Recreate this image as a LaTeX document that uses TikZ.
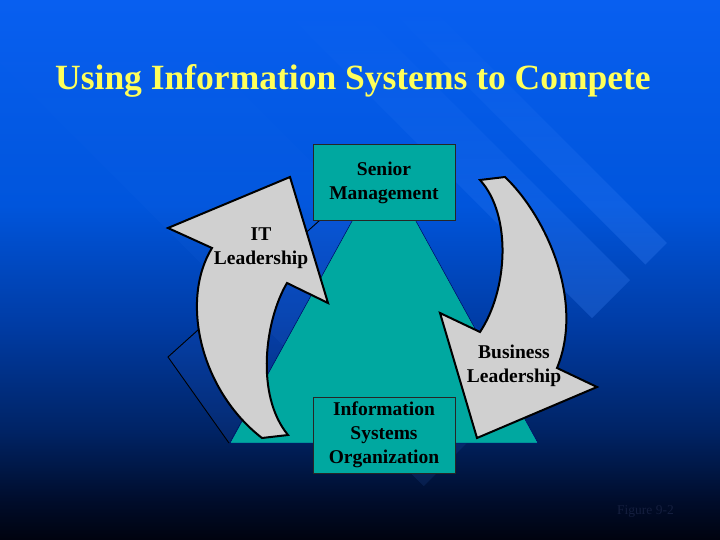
\documentclass[tikz,border=0pt]{standalone}
\usepackage{fontspec}
\setmainfont{Liberation Serif}
\usetikzlibrary{fadings}

\definecolor{boxteal}{RGB}{0,168,160}
\definecolor{arrowgrey}{RGB}{208,208,208}
\definecolor{titleyellow}{RGB}{255,255,90}
\definecolor{stripeblue}{RGB}{70,140,255}
\definecolor{facefill}{RGB}{40,90,200}
\definecolor{figtext}{RGB}{20,30,62}
\definecolor{bgA}{RGB}{0,3,15}
\definecolor{bgB}{RGB}{0,12,42}
\definecolor{bgC}{RGB}{0,35,100}
\definecolor{bgD}{RGB}{0,60,165}
\definecolor{bgE}{RGB}{0,85,220}
\definecolor{bgF}{RGB}{8,95,240}

\pgfdeclareverticalshading{slidebg}{100bp}{color(0bp)=(bgA); color(25bp)=(bgA);
  color(28.5bp)=(bgB); color(35bp)=(bgC); color(45bp)=(bgD); color(56bp)=(bgE);
  color(75bp)=(bgF); color(100bp)=(bgF)}
\tikzfading[name=fade top, top color=transparent!100, bottom color=transparent!25]

\begin{document}
\begin{tikzpicture}[x=1pt,y=-1pt,
    tealbox/.style={draw=black!85, fill=boxteal, line width=0.8pt,
      minimum width=142pt, minimum height=76pt, inner sep=0pt},
    captext/.style={align=center, font=\fontsize{19.5}{24}\selectfont\bfseries},
    greyarrow/.style={draw=black, fill=arrowgrey, line width=2pt, line join=miter},
    stripe/.style={fill=stripeblue, fill opacity=0.35, path fading=fade top},
    titletext/.style={anchor=base west, inner sep=0pt, text=titleyellow,
      font=\fontsize{35.5}{40}\selectfont\bfseries}]
  \useasboundingbox (0,0) rectangle (720,540);
  % slide background
  \shade[shading=slidebg] (0,0) rectangle (720,540);
  \fill[stripe] (424,0) -- (667,243) -- (645.5,264.5) -- (381,0) -- cycle;
  \fill[stripe] (350,0) -- (630,280) -- (592,318) -- (274,0) -- cycle;
  \fill[stripe, fill opacity=0.14] (150,0) -- (530,380) -- (424,486) -- (-62,0) -- cycle;

  % title
  \node[titletext] (title) at (55,90) {Using Information Systems to Compete};

  % pyramid
  \fill[facefill, fill opacity=0.14] (229,443) -- (168,357) -- (340,202) -- (384,163) -- cycle;
  \draw[line width=0.9pt] (229,443) -- (168,357) -- (340,202);
  \filldraw[fill=boxteal, draw=black!60!blue, line width=0.5pt] (384,163) -- (538,443) -- (230,443) -- cycle;
  \node[tealbox, captext] (senior) at (384,182.5) {Senior\\Management};
  \node[tealbox, captext] (iso) at (384,435) {Information\\Systems\\Organization};

  % curved arrows
  \filldraw[greyarrow] (262,438) .. controls (200,390) and (180,300) .. (212,248)
    -- (168,228) -- (290,177) -- (328,303) -- (287,283)
    .. controls (265,320) and (255,395) .. (288,435) -- cycle;
  \filldraw[greyarrow] (480,180) -- (505,177) .. controls (545,215) and (585,300) .. (557,368)
    -- (597,387) -- (477,438) -- (440,313) -- (480,332)
    .. controls (508,290) and (512,215) .. (480,180) -- cycle;
  \node[captext] (itlab) at (261,248) {IT\\Leadership};
  \node[captext] (buslab) at (514,366) {Business\\Leadership};

  \node[anchor=base west, inner sep=0pt, text=figtext, font=\fontsize{13.5}{16}\selectfont] (fig) at (617,514) {Figure 9-2};
\end{tikzpicture}
\end{document}
